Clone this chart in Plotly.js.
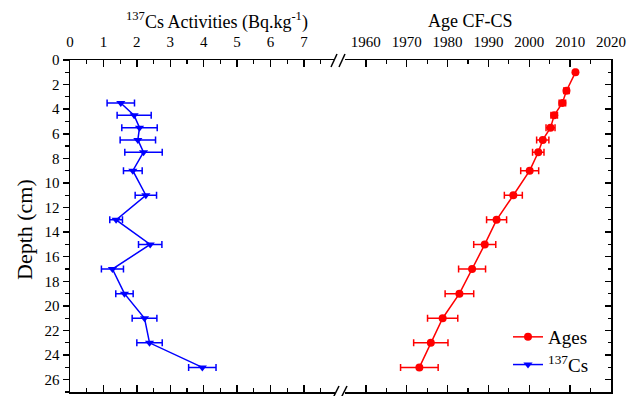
<!DOCTYPE html>
<html>
<head>
<meta charset="utf-8">
<script src="https://cdn.plot.ly/plotly-3.0.1.min.js"></script>
<style>html,body{margin:0;padding:0;background:#fff;}#chart{width:630px;height:396px;}</style>
</head>
<body>
<div id="chart"></div>
<script>
// Data
const csDepth = [3.5, 4.5, 5.5, 6.5, 7.5, 9, 11, 13, 15, 17, 19, 21, 23, 25];
const csValue = [1.52, 1.92, 2.08, 2.03, 2.2, 1.88, 2.27, 1.38, 2.4, 1.27, 1.63, 2.23, 2.38, 3.96];
const csError = [0.41, 0.51, 0.53, 0.53, 0.56, 0.28, 0.32, 0.19, 0.35, 0.33, 0.26, 0.37, 0.38, 0.41];

const ageDepth = [1, 2.5, 3.5, 4.5, 5.5, 6.5, 7.5, 9, 11, 13, 15, 17, 19, 21, 23, 25];
const ageYear = [2011.3, 2009.1, 2008.1, 2006.1, 2005.2, 2003.3, 2002.2, 2000.1, 1996.1, 1992.0, 1989.1, 1986.0, 1982.9, 1978.8, 1975.9, 1973.1];
const ageError = [0.3, 0.65, 0.8, 0.8, 1.1, 1.5, 1.4, 2.2, 2.2, 2.45, 2.7, 3.3, 3.5, 3.7, 4.2, 4.6];

const csTicks = [0, 1, 2, 3, 4, 5, 6, 7];
const yearTicks = [1960, 1970, 1980, 1990, 2000, 2010, 2020];
const depthTicks = [0, 2, 4, 6, 8, 10, 12, 14, 16, 18, 20, 22, 24, 26];

const FONT = 'Liberation Serif';

const traces = [
  {
    name: 'Ages', x: ageYear, y: ageDepth, xaxis: 'x2', yaxis: 'y2',
    type: 'scatter', mode: 'lines+markers',
    line: {color: '#ff0000', width: 1.5},
    marker: {color: '#ff0000', symbol: 'circle', size: 8},
    error_x: {type: 'data', array: ageError, visible: true, color: '#ff0000', thickness: 1.5, width: 3.5}
  },
  {
    name: '<sup>137</sup>Cs', x: csValue, y: csDepth, xaxis: 'x', yaxis: 'y',
    type: 'scatter', mode: 'lines+markers',
    line: {color: '#0000ff', width: 1.5},
    marker: {color: '#0000ff', symbol: 'triangle-down', size: 8},
    error_x: {type: 'data', array: csError, visible: true, color: '#0000ff', thickness: 1.5, width: 3.5}
  }
];

const W = 541, H = 332, L = 70, B = 4, TOP = 60;
function px(p) { return (p - L) / W; }
function py(q) { return (396 - B - q) / H; }

const axCommon = {
  showline: true, linecolor: '#000', linewidth: 1.5, showgrid: false, zeroline: false,
  ticks: 'inside', ticklen: 7, tickwidth: 1.5, tickcolor: '#000',
  tickfont: {family: FONT, size: 15, color: '#000'}, mirror: 'ticks'
};

const breakLine = {type: 'line', xref: 'paper', yref: 'paper', line: {color: '#000', width: 1.5}};
const shapes = [
  Object.assign({}, breakLine, {x0: px(331), y0: py(67), x1: px(337), y1: py(54)}),
  Object.assign({}, breakLine, {x0: px(339), y0: py(67), x1: px(345), y1: py(54)}),
  Object.assign({}, breakLine, {x0: px(333), y0: py(398), x1: px(339), y1: py(386)}),
  Object.assign({}, breakLine, {x0: px(341), y0: py(398), x1: px(347), y1: py(386)})
];

const layout = {
  width: 630, height: 396,
  margin: {l: L, r: 630 - L - W, t: TOP, b: B},
  paper_bgcolor: '#fff', plot_bgcolor: '#fff',
  font: {family: FONT, color: '#000'},
  showlegend: true,
  legend: {
    x: px(508), y: py(318), xanchor: 'left', yanchor: 'top',
    bgcolor: 'rgba(0,0,0,0)', borderwidth: 0,
    font: {family: FONT, size: 19, color: '#000'},
    tracegroupgap: 0
  },
  xaxis: Object.assign({}, axCommon, {
    domain: [0, px(335)], range: [0, 7.93], side: 'top', anchor: 'y',
    tickmode: 'array', tickvals: csTicks, ticktext: csTicks.map(String),
    minor: {dtick: 0.5, ticks: 'inside', ticklen: 4, tickcolor: '#000', tickwidth: 1.2},
    ticklabelstandoff: 6
  }),
  xaxis2: Object.assign({}, axCommon, {
    domain: [px(345), 1], range: [1954.9, 2020], side: 'top', anchor: 'y2',
    tickmode: 'array', tickvals: yearTicks, ticktext: yearTicks.map(String),
    minor: {dtick: 5, tick0: 1955, ticks: 'inside', ticklen: 4, tickcolor: '#000', tickwidth: 1.2},
    ticklabelstandoff: 6
  }),
  yaxis: {
    domain: [0, 1], range: [27, 0], anchor: 'x', side: 'left',
    showline: true, linecolor: '#000', linewidth: 1.5, showgrid: false, zeroline: false,
    ticks: 'outside', ticklen: 6, tickwidth: 1.5, tickcolor: '#000',
    tickmode: 'array', tickvals: depthTicks, ticktext: depthTicks.map(String),
    tickfont: {family: FONT, size: 15, color: '#000'},
    minor: {dtick: 1, ticks: 'outside', ticklen: 4, tickcolor: '#000', tickwidth: 1.2}
  },
  yaxis2: {
    domain: [0, 1], range: [27, 0], anchor: 'x2', side: 'right',
    showline: true, linecolor: '#000', linewidth: 1.5, showgrid: false, zeroline: false,
    ticks: 'inside', ticklen: 6, tickwidth: 1.5, tickcolor: '#000',
    tickmode: 'array', tickvals: depthTicks, showticklabels: false,
    minor: {dtick: 1, ticks: 'inside', ticklen: 3, tickcolor: '#000', tickwidth: 1.2}
  },
  shapes: shapes,
  annotations: [
    {text: '<sup>137</sup>Cs Activities (Bq.kg<sup>-1</sup>)', xref: 'paper', yref: 'paper',
     x: px(217), y: py(21), xanchor: 'center', yanchor: 'middle', showarrow: false,
     font: {family: FONT, size: 18, color: '#000'}},
    {text: 'Age CF-CS', xref: 'paper', yref: 'paper',
     x: px(470), y: py(21), xanchor: 'center', yanchor: 'middle', showarrow: false,
     font: {family: FONT, size: 18, color: '#000'}},
    {text: 'Depth (cm)', xref: 'paper', yref: 'paper', textangle: -90,
     x: px(25), y: py(230), xanchor: 'center', yanchor: 'middle', showarrow: false,
     font: {family: FONT, size: 22, color: '#000'}}
  ]
};

Plotly.newPlot('chart', traces, layout, {displayModeBar: false, staticPlot: true});
</script>
</body>
</html>
